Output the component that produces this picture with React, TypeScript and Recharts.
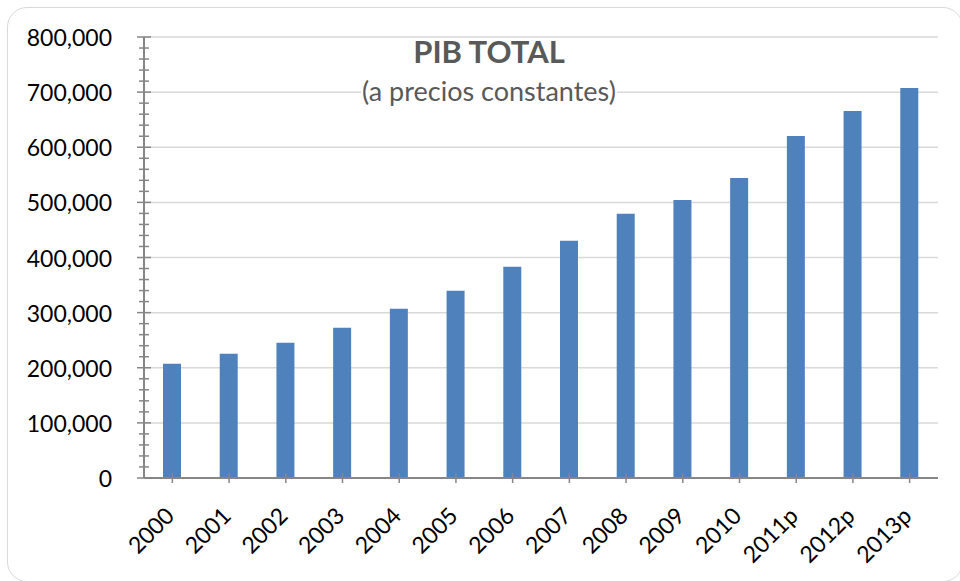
import React from 'react';
import { BarChart, Bar, XAxis, YAxis, CartesianGrid } from 'recharts';

const years = ['2000', '2001', '2002', '2003', '2004', '2005', '2006', '2007', '2008', '2009', '2010', '2011p', '2012p', '2013p'];
const pib = [207400, 225500, 245500, 272600, 307000, 339700, 383200, 430300, 479200, 504500, 544400, 620500, 665800, 707400];
const majorTicks = [0, 100000, 200000, 300000, 400000, 500000, 600000, 700000, 800000];
const allYTicks = [
  0, 20000, 40000, 60000, 80000, 100000, 120000, 140000, 160000, 180000, 200000,
  220000, 240000, 260000, 280000, 300000, 320000, 340000, 360000, 380000, 400000,
  420000, 440000, 460000, 480000, 500000, 520000, 540000, 560000, 580000, 600000,
  620000, 640000, 660000, 680000, 700000, 720000, 740000, 760000, 780000, 800000,
];
const boundaryTicks = [0, 1, 2, 3, 4, 5, 6, 7, 8, 9, 10, 11, 12, 13, 14];
const title = 'PIB TOTAL';
const subtitle = '(a precios constantes)';

const data = years.map((year, i) => ({ year, pib: pib[i] }));

const FONT = 'Lato, "Open Sans", sans-serif';
const AXIS = '#868686';

const YTick = (props: any) => {
  const { x, y, payload } = props;
  const v = payload.value as number;
  const major = v % 100000 === 0;
  const half = major ? 7 : 5;
  return (
    <g>
      <line x1={x - half} x2={x + half} y1={y} y2={y} stroke={AXIS} strokeWidth={1.5} />
      {major && (
        <text x={x - 32} y={y} textAnchor="end" dominantBaseline="central" fontSize={23} fill="#000" fontFamily={FONT}>
          {v.toLocaleString('en-US')}
        </text>
      )}
    </g>
  );
};

const XTick = (props: any) => {
  const { x, y, payload } = props;
  const tx = x - 3;
  const ty = y + 33;
  return (
    <g>
      <line x1={x} x2={x} y1={y - 5} y2={y + 5} stroke={AXIS} strokeWidth={1.5} />
      <text
        x={tx}
        y={ty}
        transform={`rotate(-45, ${tx}, ${ty})`}
        textAnchor="end"
        dominantBaseline="central"
        fontSize={23}
        fill="#000"
        fontFamily={FONT}
      >
        {payload.value}
      </text>
    </g>
  );
};

export default function App() {
  return (
    <div style={{ position: 'absolute', left: 0, top: 0, width: 960, height: 581, overflow: 'hidden', background: '#fff' }}>
      <div
        style={{
          position: 'absolute',
          left: 7,
          top: 7,
          width: 956,
          height: 575,
          border: '1.5px solid #d9d9d9',
          borderRadius: 20,
          boxSizing: 'border-box',
        }}
      />
      <div style={{ position: 'absolute', left: 0, top: 0 }}>
        <BarChart width={960} height={581} data={data} margin={{ top: 37, right: 22, left: 0, bottom: 0 }}>
          <CartesianGrid vertical={false} horizontalValues={majorTicks} stroke="#d9d9d9" strokeWidth={1.5} yAxisId="left" />
          <XAxis
            xAxisId="bounds"
            type="number"
            domain={[0, 14]}
            ticks={boundaryTicks}
            interval={0}
            tick={false}
            tickLine={{ stroke: AXIS, strokeWidth: 1.5 }}
            tickSize={9}
            axisLine={false}
            height={0}
            allowDataOverflow
          />
          <XAxis
            xAxisId="cat"
            dataKey="year"
            interval={0}
            tickLine={false}
            tickSize={0}
            tickMargin={0}
            axisLine={{ stroke: AXIS, strokeWidth: 2 }}
            tick={<XTick />}
            height={103}
          />
          <YAxis
            yAxisId="left"
            domain={[0, 800000]}
            ticks={allYTicks}
            interval={0}
            tickLine={false}
            tickSize={0}
            tickMargin={0}
            axisLine={{ stroke: AXIS, strokeWidth: 2 }}
            tick={<YTick />}
            width={144}
          />
          <Bar dataKey="pib" xAxisId="cat" yAxisId="left" fill="#4f81bd" barSize={18} isAnimationActive={false} />
        </BarChart>
      </div>
      <div style={{ position: 'absolute', left: 0, top: 34, width: 978, textAlign: 'center', fontFamily: FONT }}>
        <div style={{ lineHeight: '34px', height: 34 }}>
          <span style={{ fontSize: 31, fontWeight: 700, color: '#595959' }}>{title}</span>
        </div>
        <div style={{ marginTop: 8, lineHeight: '30px' }}>
          <span style={{ fontSize: 27, color: '#595959', background: '#fff', padding: '0 1px' }}>{subtitle}</span>
        </div>
      </div>
    </div>
  );
}
